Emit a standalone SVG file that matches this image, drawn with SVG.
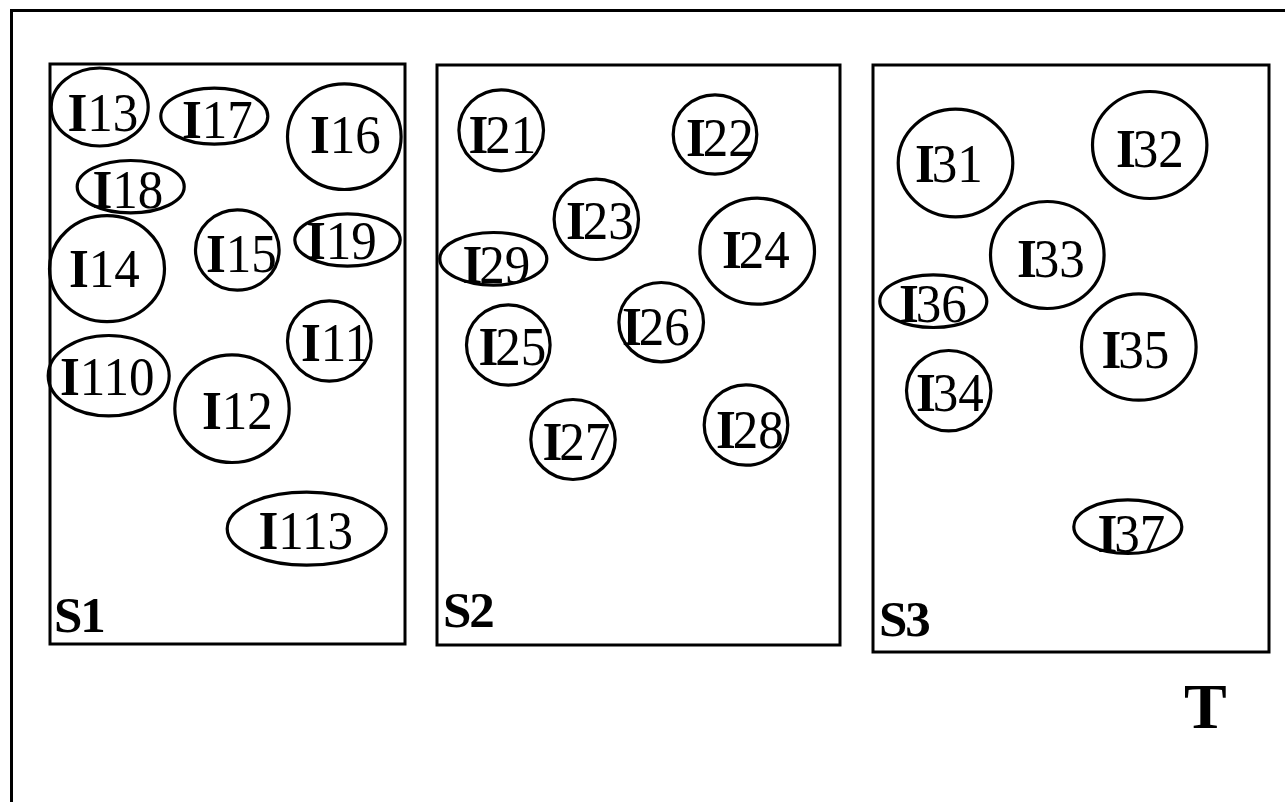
<svg xmlns="http://www.w3.org/2000/svg" width="1285" height="802" viewBox="0 0 1285 802">
<style>
.frame{fill:none;stroke:#000;stroke-width:3}
.box{fill:none;stroke:#000;stroke-width:3}
.n{fill:none;stroke:#000;stroke-width:3.2}
.lbl{font-family:"Liberation Serif","Times New Roman",serif;font-size:51px;fill:#000;transform-box:fill-box;transform-origin:0 80%;transform:scaleY(1.07)}
.b{font-weight:bold}
.sl{font-family:"Liberation Serif","Times New Roman",serif;font-size:51px;font-weight:bold;fill:#000;letter-spacing:-2px}
.t{font-family:"Liberation Serif","Times New Roman",serif;font-size:64px;font-weight:bold;fill:#000}
</style>
<rect width="1285" height="802" fill="#fff"/>
<rect class="frame" x="11.5" y="10.5" width="1300" height="820"/>
<g id="S1">
<rect class="box" x="50" y="64" width="355" height="580"/>
<text class="sl" x="54" y="632">S1</text>
</g>
<g id="S2">
<rect class="box" x="437" y="65" width="403" height="580"/>
<text class="sl" x="443" y="627">S2</text>
</g>
<g id="S3">
<rect class="box" x="873" y="65" width="396" height="587"/>
<text class="sl" x="879" y="636">S3</text>
</g>
<g id="I13"><ellipse class="n" cx="99.7" cy="107" rx="48.5" ry="39"/><text class="lbl" x="67.5" y="131"><tspan class="b">I</tspan>13</text></g>
<g id="I17"><ellipse class="n" cx="214.3" cy="116.2" rx="53.5" ry="28"/><text class="lbl" x="182" y="137.7"><tspan class="b">I</tspan>17</text></g>
<g id="I16"><ellipse class="n" cx="344.3" cy="136.7" rx="56.8" ry="52.8"/><text class="lbl" x="310" y="153.3"><tspan class="b">I</tspan>16</text></g>
<g id="I18"><ellipse class="n" cx="130.7" cy="186.7" rx="53.5" ry="26.2"/><text class="lbl" x="92.5" y="208.3"><tspan class="b">I</tspan>18</text></g>
<g id="I14"><ellipse class="n" cx="107" cy="268.7" rx="57.5" ry="53"/><text class="lbl" x="69" y="286.7"><tspan class="b">I</tspan>14</text></g>
<g id="I15"><ellipse class="n" cx="237.3" cy="250" rx="41.8" ry="40.2"/><text class="lbl" x="206" y="271.7"><tspan class="b">I</tspan>15</text></g>
<g id="I19"><ellipse class="n" cx="347.5" cy="240" rx="52.7" ry="26.2"/><text class="lbl" x="306" y="259"><tspan class="b">I</tspan>19</text></g>
<g id="I11"><ellipse class="n" cx="329.3" cy="341" rx="41.8" ry="40.2"/><text class="lbl" x="301" y="360.7"><tspan class="b">I</tspan>11</text></g>
<g id="I110"><ellipse class="n" cx="108.7" cy="375.7" rx="60.5" ry="40.2"/><text class="lbl" x="60" y="395"><tspan class="b">I</tspan>110</text></g>
<g id="I12"><ellipse class="n" cx="232" cy="408.7" rx="57.2" ry="53.8"/><text class="lbl" x="202" y="429.3"><tspan class="b">I</tspan>12</text></g>
<g id="I113"><ellipse class="n" cx="306.7" cy="528.7" rx="79.5" ry="36.5"/><text class="lbl" x="258.5" y="549.3"><tspan class="b">I</tspan>113</text></g>
<g id="I21"><ellipse class="n" cx="501.2" cy="130.3" rx="42.3" ry="40.5"/><text class="lbl" x="468.5" y="153.3"><tspan class="b">I</tspan><tspan dx="-3">21</tspan></text></g>
<g id="I22"><ellipse class="n" cx="715" cy="134.5" rx="41.8" ry="39.7"/><text class="lbl" x="686" y="155.7"><tspan class="b">I</tspan><tspan dx="-3">22</tspan></text></g>
<g id="I23"><ellipse class="n" cx="596.3" cy="219.3" rx="42.2" ry="40.2"/><text class="lbl" x="566" y="239"><tspan class="b">I</tspan><tspan dx="-3">23</tspan></text></g>
<g id="I24"><ellipse class="n" cx="757.2" cy="251.2" rx="57.3" ry="53"/><text class="lbl" x="722" y="268.3"><tspan class="b">I</tspan><tspan dx="-3">24</tspan></text></g>
<g id="I29"><ellipse class="n" cx="493.3" cy="258.8" rx="53.5" ry="26.3"/><text class="lbl" x="462.5" y="283.3"><tspan class="b">I</tspan><tspan dx="-3">29</tspan></text></g>
<g id="I25"><ellipse class="n" cx="508.3" cy="345" rx="41.8" ry="40.2"/><text class="lbl" x="478.5" y="365"><tspan class="b">I</tspan><tspan dx="-3">25</tspan></text></g>
<g id="I26"><ellipse class="n" cx="661.2" cy="322.2" rx="42.3" ry="39.7"/><text class="lbl" x="622" y="345"><tspan class="b">I</tspan><tspan dx="-3">26</tspan></text></g>
<g id="I27"><ellipse class="n" cx="573" cy="439.5" rx="42.2" ry="40"/><text class="lbl" x="542.5" y="460"><tspan class="b">I</tspan><tspan dx="-3">27</tspan></text></g>
<g id="I28"><ellipse class="n" cx="746" cy="425" rx="41.8" ry="40.2"/><text class="lbl" x="716" y="447.7"><tspan class="b">I</tspan><tspan dx="-3">28</tspan></text></g>
<g id="I31"><ellipse class="n" cx="955.5" cy="163" rx="57.3" ry="53.8"/><text class="lbl" x="915" y="181.7"><tspan class="b">I</tspan><tspan dx="-3">31</tspan></text></g>
<g id="I32"><ellipse class="n" cx="1149.7" cy="145" rx="57.2" ry="53.5"/><text class="lbl" x="1116" y="166.7"><tspan class="b">I</tspan><tspan dx="-3">32</tspan></text></g>
<g id="I33"><ellipse class="n" cx="1047.3" cy="255" rx="56.8" ry="53.5"/><text class="lbl" x="1017" y="276.7"><tspan class="b">I</tspan><tspan dx="-3">33</tspan></text></g>
<g id="I36"><ellipse class="n" cx="933.3" cy="301.2" rx="53.5" ry="26.3"/><text class="lbl" x="899" y="322.3"><tspan class="b">I</tspan><tspan dx="-3">36</tspan></text></g>
<g id="I35"><ellipse class="n" cx="1138.8" cy="347" rx="57.3" ry="53.2"/><text class="lbl" x="1101.5" y="368.3"><tspan class="b">I</tspan><tspan dx="-3">35</tspan></text></g>
<g id="I34"><ellipse class="n" cx="948.7" cy="390.7" rx="42.2" ry="40.2"/><text class="lbl" x="916" y="411"><tspan class="b">I</tspan><tspan dx="-3">34</tspan></text></g>
<g id="I37"><ellipse class="n" cx="1127.8" cy="526.7" rx="54" ry="26.8"/><text class="lbl" x="1097.5" y="551.7"><tspan class="b">I</tspan><tspan dx="-3">37</tspan></text></g>
<g id="connectors"></g>
<text class="t" x="1184" y="728.3">T</text>
</svg>
